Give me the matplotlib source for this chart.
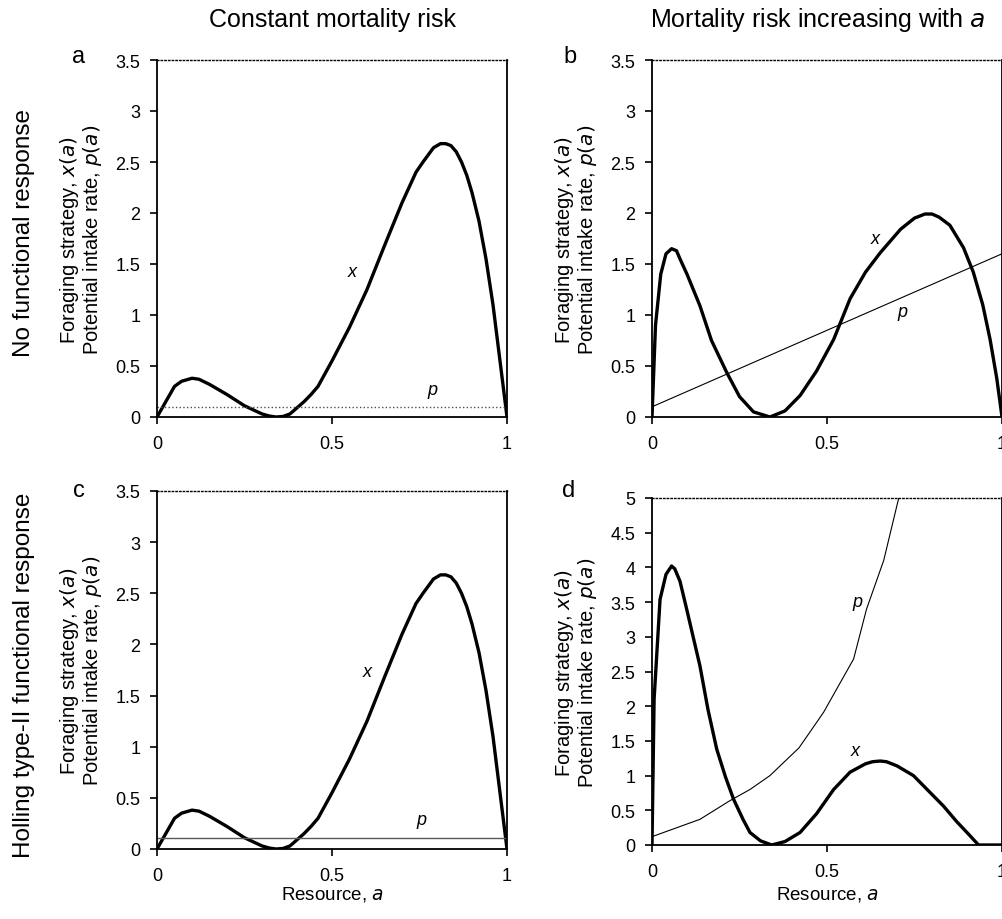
import numpy as np
import matplotlib.pyplot as plt
from matplotlib.ticker import FuncFormatter

plt.rcParams['font.family'] = ['Liberation Sans', 'DejaVu Sans']

# Panel a / c: constant mortality risk
a_const = [0, 0.02, 0.05, 0.07, 0.1, 0.12, 0.15, 0.2, 0.25, 0.3, 0.32, 0.34, 0.36,
           0.38, 0.42, 0.44, 0.46, 0.5, 0.55, 0.6, 0.65, 0.7, 0.74, 0.76, 0.79,
           0.81, 0.825, 0.84, 0.855, 0.87, 0.885, 0.9, 0.92, 0.94, 0.96, 0.98, 1.0]
x_const = [0, 0.12, 0.3, 0.35, 0.38, 0.37, 0.32, 0.22, 0.11, 0.03, 0.01, 0.0, 0.005,
           0.03, 0.15, 0.22, 0.3, 0.55, 0.88, 1.25, 1.68, 2.1, 2.4, 2.5, 2.64,
           2.68, 2.68, 2.66, 2.6, 2.5, 2.37, 2.2, 1.92, 1.55, 1.1, 0.55, 0.0]
p_a = 0.1
p_c = 0.11

# Panel b: mortality increasing, no functional response
a_b = [0, 0.01, 0.025, 0.04, 0.056, 0.07, 0.08, 0.1, 0.137, 0.17, 0.213, 0.25,
       0.29, 0.337, 0.38, 0.423, 0.47, 0.519, 0.566, 0.61, 0.652, 0.71, 0.75,
       0.78, 0.8, 0.82, 0.851, 0.89, 0.918, 0.945, 0.966, 0.985, 1.0]
x_b = [0, 0.9, 1.4, 1.6, 1.65, 1.63, 1.55, 1.4, 1.09, 0.75, 0.44, 0.2,
       0.05, 0.0, 0.06, 0.21, 0.45, 0.76, 1.16, 1.42, 1.61, 1.84, 1.95,
       1.99, 1.99, 1.96, 1.88, 1.66, 1.42, 1.1, 0.76, 0.38, 0.0]
pa_b = [0, 1]
p_b = [0.1, 1.6]

# Panel d: mortality increasing, Holling type-II
a_d = [0, 0.006, 0.023, 0.04, 0.056, 0.065, 0.08, 0.099, 0.137, 0.16, 0.185,
       0.21, 0.233, 0.26, 0.28, 0.31, 0.342, 0.38, 0.423, 0.47, 0.519, 0.566,
       0.61, 0.63, 0.652, 0.67, 0.7, 0.747, 0.79, 0.833, 0.87, 0.9, 0.933, 1.0]
x_d = [0, 2.1, 3.54, 3.9, 4.02, 3.98, 3.8, 3.4, 2.58, 1.95, 1.38,
       0.98, 0.66, 0.37, 0.18, 0.06, 0.0, 0.05, 0.18, 0.45, 0.8, 1.05,
       1.17, 1.2, 1.21, 1.2, 1.14, 1.0, 0.78, 0.56, 0.34, 0.18, 0.0, 0.0]
pa_d = [0, 0.137, 0.223, 0.28, 0.337, 0.42, 0.49, 0.576, 0.613, 0.662, 0.704, 0.72]
p_d = [0.12, 0.37, 0.64, 0.8, 1.0, 1.4, 1.91, 2.68, 3.4, 4.1, 4.98, 5.3]

W, H = 1003, 920
fig = plt.figure(figsize=(W / 100, H / 100), dpi=100)


def box(x0, x1, ytop, ybot):
    # pixel box -> figure fraction rect
    return [x0 / W, 1 - ybot / H, (x1 - x0) / W, (ybot - ytop) / H]


ax_a = fig.add_axes(box(157, 507, 61, 418))
ax_b = fig.add_axes(box(652, 1002, 61, 418))
ax_c = fig.add_axes(box(157, 507, 492, 850))
ax_d = fig.add_axes(box(652, 1002, 499, 846))

fmt = FuncFormatter(lambda v, pos: '{:g}'.format(v))
ylab = 'Foraging strategy, $\\it{x(a)}$\nPotential intake rate, $\\it{p(a)}$'

for ax in (ax_a, ax_b, ax_c, ax_d):
    ax.set_xlim(0, 1)
    ax.set_xticks([0, 0.5, 1])
    ax.xaxis.set_major_formatter(fmt)
    ax.yaxis.set_major_formatter(fmt)
    ax.tick_params(direction='out', length=5, width=1.2, labelsize=13, pad=7)
    ax.tick_params(axis='x', pad=8)
    for s in ('left', 'bottom', 'right'):
        ax.spines[s].set_linewidth(1.3)
    ax.spines['top'].set_linewidth(1.0)
    ax.spines['top'].set_linestyle(':')
    # y label block, centred on the panel
    pos = ax.get_position()
    fig.text(pos.x0 - 76 / W, pos.y0 + pos.height / 2, ylab, fontsize=14.5,
             rotation=90, ha='center', va='center', linespacing=0.95,
             multialignment='center')

for ax in (ax_a, ax_b, ax_c):
    ax.set_ylim(0, 3.5)
    ax.set_yticks(np.arange(0, 3.51, 0.5))
ax_d.set_ylim(0, 5)
ax_d.set_yticks(np.arange(0, 5.01, 0.5))

# curves
ax_a.plot(a_const, x_const, color='black', lw=2.4, solid_joinstyle='round')
ax_a.axhline(p_a, color='0.3', lw=1.0, ls=':')
ax_c.plot(a_const, x_const, color='black', lw=2.4, solid_joinstyle='round')
ax_c.axhline(p_c, color='0.35', lw=1.0)
ax_b.plot(a_b, x_b, color='black', lw=2.4, solid_joinstyle='round')
ax_b.plot(pa_b, p_b, color='black', lw=0.8)
ax_d.plot(a_d, x_d, color='black', lw=2.4, solid_joinstyle='round')
ax_d.plot(pa_d, p_d, color='black', lw=0.8)

# curve labels
lab = dict(fontsize=13, style='italic', ha='center', va='center')
ax_a.text(0.557, 1.43, 'x', **lab)
ax_a.text(0.786, 0.27, 'p', **lab)
ax_b.text(0.637, 1.75, 'x', **lab)
ax_b.text(0.717, 1.03, 'p', **lab)
ax_c.text(0.60, 1.74, 'x', **lab)
ax_c.text(0.757, 0.29, 'p', **lab)
ax_d.text(0.58, 1.36, 'x', **lab)
ax_d.text(0.586, 3.51, 'p', **lab)

fig.text(332 / W, 1 - 895 / H, 'Resource, $\\it{a}$', fontsize=13.5, ha='center', va='center')
fig.text(827 / W, 1 - 895 / H, 'Resource, $\\it{a}$', fontsize=13.5, ha='center', va='center')

# panel letters
fig.text(79 / W, 1 - 57 / H, 'a', fontsize=17, ha='center', va='center')
fig.text(570 / W, 1 - 57 / H, 'b', fontsize=17, ha='center', va='center')
fig.text(79 / W, 1 - 491 / H, 'c', fontsize=17, ha='center', va='center')
fig.text(569 / W, 1 - 491 / H, 'd', fontsize=17, ha='center', va='center')

# column and row titles
fig.text(333 / W, 1 - 20 / H, 'Constant mortality risk', fontsize=18,
         ha='center', va='center')
fig.text(818 / W, 1 - 20 / H, 'Mortality risk increasing with $\\it{a}$',
         fontsize=18, ha='center', va='center')
fig.text(24 / W, 1 - 233 / H, 'No functional response', fontsize=17.5,
         rotation=90, ha='center', va='center')
fig.text(24 / W, 1 - 675 / H, 'Holling type-II functional response', fontsize=17.5,
         rotation=90, ha='center', va='center')

fig.savefig('out.png', dpi=100)
